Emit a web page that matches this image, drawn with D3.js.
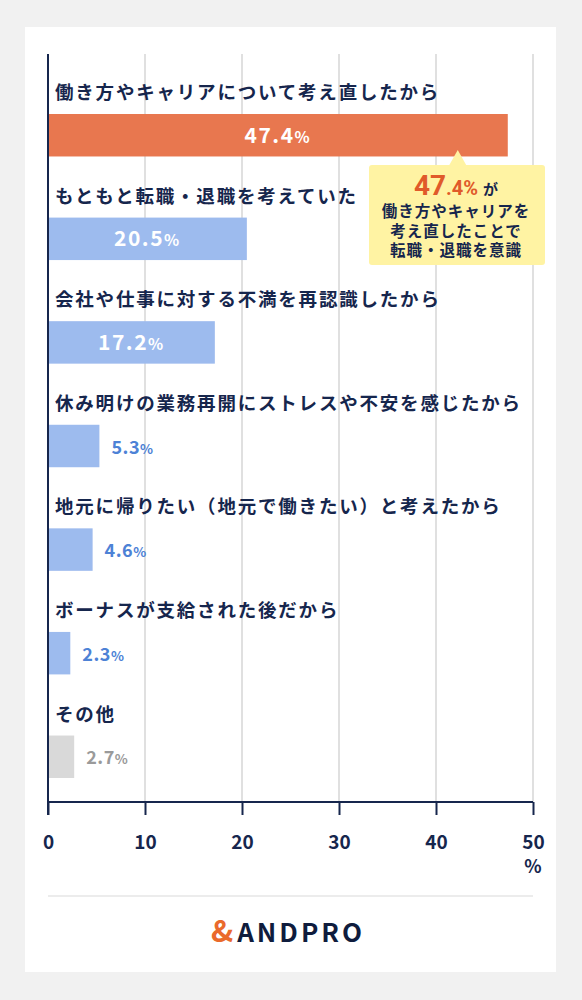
<!DOCTYPE html>
<html><head><meta charset="utf-8">
<script src="https://cdn.jsdelivr.net/npm/d3@7/dist/d3.min.js"></script>
<style>
html,body{margin:0;padding:0;background:#f1f1f1;}
svg{display:block;}
text{font-family:"Noto Sans CJK JP","Noto Sans",sans-serif;}
</style></head><body>
<svg id="c" width="582" height="1000"></svg>
<script>
const categories = [
  "働き方やキャリアについて考え直したから",
  "もともと転職・退職を考えていた",
  "会社や仕事に対する不満を再認識したから",
  "休み明けの業務再開にストレスや不安を感じたから",
  "地元に帰りたい（地元で働きたい）と考えたから",
  "ボーナスが支給された後だから",
  "その他"
];
const values = [47.4, 20.5, 17.2, 5.3, 4.6, 2.3, 2.7];
const barKinds = ["highlight", "normal", "normal", "normal", "normal", "normal", "other"];
const xTicks = [0, 10, 20, 30, 40, 50];
const calloutLines = ["働き方やキャリアを", "考え直したことで", "転職・退職を意識"];

const navy = "#16264d";
const fills = {highlight: "#e8774f", normal: "#9dbbee", other: "#d9d9d9"};
const outsideColor = {normal: "#4d82d6", other: "#9a9a9a"};

const svg = d3.select("#c");
svg.append("rect").attr("x", 0).attr("y", 0).attr("width", 582).attr("height", 1000).attr("fill", "#f1f1f1");
svg.append("rect").attr("x", 25).attr("y", 27).attr("width", 531).attr("height", 945).attr("fill", "#ffffff");

const x = d3.scaleLinear().domain([0, 50]).range([48, 533]);
const y = d3.scaleBand().domain(d3.range(categories.length)).range([114, 778]).paddingInner(0.59).paddingOuter(0);

// gridlines
svg.append("g").selectAll("line").data(xTicks.slice(1)).join("line")
  .attr("x1", d => x(d)).attr("x2", d => x(d))
  .attr("y1", 54).attr("y2", 802)
  .attr("stroke", "#d6d6d6").attr("stroke-width", 1.5);

// bars
svg.append("g").selectAll("rect").data(values).join("rect")
  .attr("x", x(0)).attr("y", (d, i) => y(i))
  .attr("width", d => x(d) - x(0)).attr("height", y.bandwidth())
  .attr("fill", (d, i) => fills[barKinds[i]]);

// category labels
svg.append("g").selectAll("text").data(categories).join("text")
  .attr("x", 55).attr("y", (d, i) => y(i) - 15)
  .attr("font-size", 18.5).attr("font-weight", 700).attr("fill", navy)
  .attr("letter-spacing", 1.8)
  .text(d => d);

// value labels
svg.append("g").selectAll("text").data(values).join("text")
  .attr("font-family", "Roboto, 'Noto Sans', sans-serif")
  .attr("font-weight", 700)
  .attr("y", (d, i) => y(i) + y.bandwidth() / 2 + 7.5)
  .each(function(d, i) {
    const t = d3.select(this);
    const inside = d > 10;
    const big = inside ? 21 : 18;
    t.attr("fill", inside ? "#ffffff" : outsideColor[barKinds[i]])
     .attr("text-anchor", inside ? "middle" : "start")
     .attr("x", inside ? (x(0) + x(d)) / 2 : x(d) + 12)
     .attr("letter-spacing", inside ? 1.5 : 0.5);
    t.append("tspan").attr("font-size", big).text(d.toFixed(1));
    t.append("tspan").attr("font-size", big * 0.75).text("%");
  });

// left axis line
svg.append("line").attr("x1", x(0)).attr("x2", x(0)).attr("y1", 54).attr("y2", 815)
  .attr("stroke", navy).attr("stroke-width", 2);

// bottom axis
const axis = d3.axisBottom(x).tickValues(xTicks).tickSize(13).tickPadding(21).tickFormat(d3.format("d"));
const gx = svg.append("g").attr("transform", "translate(0,802)").call(axis);
gx.select(".domain").attr("stroke", navy).attr("stroke-width", 2).attr("d", `M${x(0)},0H${x(50)}`);
gx.selectAll(".tick line").attr("stroke", navy).attr("stroke-width", 2);
gx.selectAll(".tick text").attr("fill", navy).attr("font-size", 19).attr("font-weight", 700)
  .attr("font-family", "Roboto, 'Noto Sans', sans-serif");
svg.append("text").attr("x", x(50)).attr("y", 873).attr("text-anchor", "middle")
  .attr("font-size", 18).attr("font-weight", 700).attr("fill", navy)
  .attr("font-family", "Roboto, 'Noto Sans', sans-serif").text("%");

// callout
const cx = 456, ct = 165, cb = 265, cl = 369, cr = 545;
const cg = svg.append("g");
cg.append("rect").attr("x", cl).attr("y", ct).attr("width", cr - cl).attr("height", cb - ct)
  .attr("rx", 3).attr("fill", "#fff3a3");
cg.append("path").attr("d", `M${x(values[0]) - 59},${ct + 1}L${x(values[0]) - 50},${150}L${x(values[0]) - 41},${ct + 1}Z`)
  .attr("fill", "#fff3a3");
const head = cg.append("text").attr("x", cx).attr("y", 195).attr("text-anchor", "middle")
  .attr("font-weight", 700);
head.append("tspan").attr("fill", "#e05a2a").attr("font-size", 28).attr("font-family", "Roboto, sans-serif").text(String(values[0]).split(".")[0]);
head.append("tspan").attr("fill", "#e05a2a").attr("font-size", 20).attr("font-family", "Roboto, sans-serif").text("." + String(values[0]).split(".")[1] + "%");
head.append("tspan").attr("fill", navy).attr("font-size", 15).attr("dx", 5).text("が");
cg.selectAll("text.l").data(calloutLines).join("text").attr("class", "l")
  .attr("x", cx).attr("y", (d, i) => 217 + i * 19.5).attr("text-anchor", "middle")
  .attr("font-size", 15.5).attr("font-weight", 700).attr("fill", navy)
  .attr("letter-spacing", 1).text(d => d);

// separator
svg.append("line").attr("x1", 48).attr("x2", 533).attr("y1", 896).attr("y2", 896)
  .attr("stroke", "#e6e6e6").attr("stroke-width", 1.5);

// logo
const lg = svg.append("text").attr("x", 211).attr("y", 942).attr("text-anchor", "start")
  .attr("font-family", "'Noto Sans', sans-serif").attr("font-weight", 700);
lg.append("tspan").attr("font-size", 30).attr("fill", "#ea6a2c").text("&");
lg.append("tspan").attr("font-size", 26).attr("fill", "#0f1c3d").attr("dx", 4).attr("letter-spacing", 3).text("ANDPRO");
</script>
</body></html>
